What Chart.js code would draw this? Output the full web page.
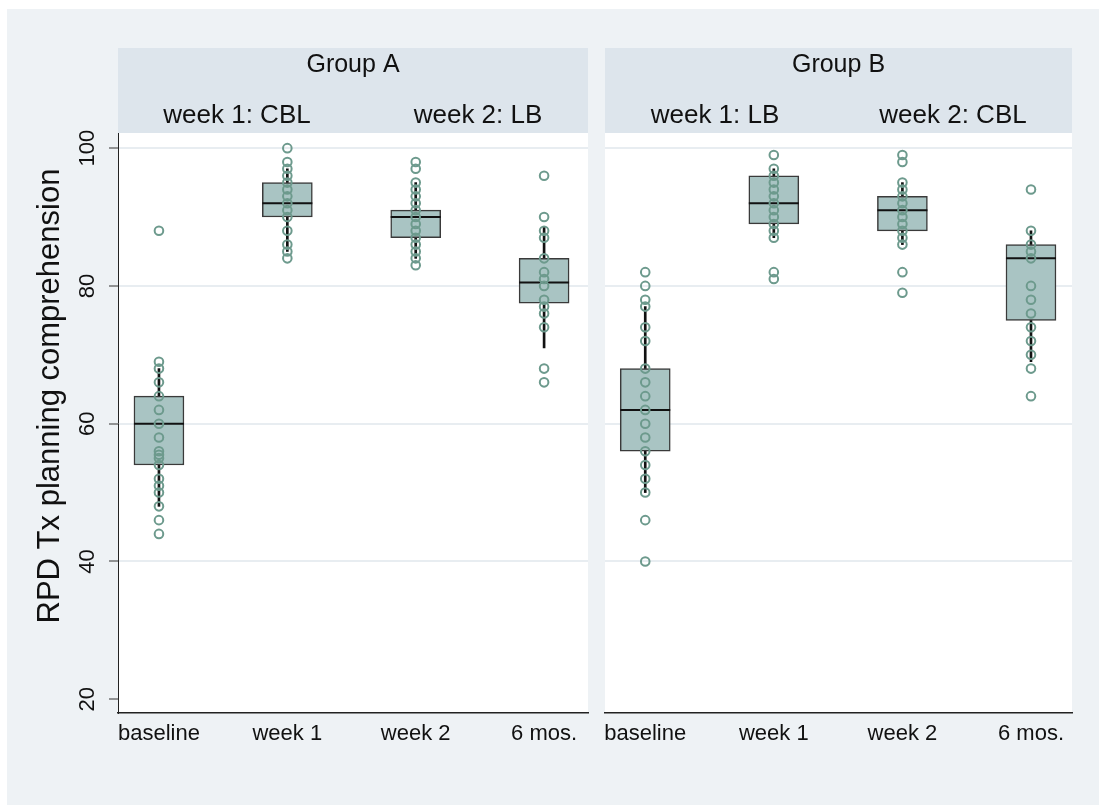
<!DOCTYPE html>
<html>
<head>
<meta charset="utf-8">
<script src="https://cdn.jsdelivr.net/npm/chart.js@4.4.1/dist/chart.umd.min.js"></script>
<style>
  html, body { margin: 0; padding: 0; background: #fff; }
  #bg { position: absolute; left: 7px; top: 9px; width: 1092px; height: 796px; background: #eef2f5; }
  canvas { position: absolute; left: 0; top: 0; }
</style>
</head>
<body>
<div id="bg"></div>
<canvas id="chartA" width="1099" height="805"></canvas>
<canvas id="chartB" width="1099" height="805"></canvas>
<script>
const categories = ['baseline', 'week 1', 'week 2', '6 mos.'];
const yTicks = [20, 40, 60, 80, 100];

// Group A - individual scores
const aBaseline = [88, 69, 68, 66, 64, 62, 60, 58, 56, 55.5, 55, 54, 52, 51, 50, 48, 46, 44];
const aWeek1 = [100, 98, 97, 96, 95, 94, 93, 92, 91, 90, 88, 86, 85, 84];
const aWeek2 = [98, 97, 95, 94, 93, 92, 91, 90, 89, 88, 87, 86, 85, 84, 83];
const aMonth6 = [96, 90, 88, 87, 84, 82, 81, 80, 78, 77, 76, 74, 68, 66];

// Group A - box summaries (baseline, week 1, week 2, 6 mos.)
const aLow = [48, 85, 84, 71];
const aQ1 = [54, 90, 87, 77.5];
const aMedian = [60, 92, 90, 80.5];
const aQ3 = [64, 95, 91, 84];
const aHigh = [68, 97, 95, 88.5];

// Group B - individual scores
const bBaseline = [82, 80, 78, 77, 74, 72, 68, 66, 64, 62, 60, 58, 56, 54, 52, 50, 46, 40];
const bWeek1 = [99, 97, 96, 95, 94, 93, 92, 91, 90, 89, 88, 87, 82, 81];
const bWeek2 = [99, 98, 95, 94, 93, 92, 91, 90, 89, 88, 87, 86, 82, 79];
const bMonth6 = [94, 88, 86, 85, 84, 80, 78, 76, 74, 72, 70, 68, 64];

// Group B - box summaries
const bLow = [50, 87, 86, 69];
const bQ1 = [56, 89, 88, 75];
const bMedian = [62, 92, 91, 84];
const bQ3 = [68, 96, 93, 86];
const bHigh = [77, 97, 95, 88];

const FONT = '"Liberation Sans", Arial, sans-serif';

// header strip, white plot area and the y title (drawn before the chart)
const panelPlugin = {
    id: 'panel',
    beforeDraw(chart, args, opts) {
        const ctx = chart.ctx;
        const a = chart.chartArea;
        ctx.save();
        ctx.fillStyle = '#dde5ec';
        ctx.fillRect(a.left, 48, a.right - a.left, a.top - 48);
        ctx.fillStyle = '#ffffff';
        ctx.fillRect(a.left, a.top, a.right - a.left, a.bottom - a.top);
        ctx.fillStyle = '#111';
        ctx.textAlign = 'center';
        ctx.textBaseline = 'middle';
        ctx.font = '25px ' + FONT;
        ctx.fillText(opts.title, (a.left + a.right) / 2, 65);
        ctx.font = '26px ' + FONT;
        opts.subtitles.forEach(s => ctx.fillText(s.text, a.left + s.dx, 116));
        if (opts.yTitle) {
            ctx.translate(50, 396);
            ctx.rotate(-Math.PI / 2);
            ctx.font = '31px ' + FONT;
            ctx.fillText(opts.yTitle, 0, 0);
        }
        ctx.restore();
    }
};

function buildPanel(id, pts, low, q1, med, q3, high, panelOpts, first) {
    const scatterData = [];
    pts.forEach((vals, i) => vals.forEach(v => scatterData.push({ x: i, y: v })));
    const boxData = q1.map((v, i) => ({ x: i, y: [v, q3[i]] }));
    const whiskers = q3.map((v, i) => ({ x: i, y: [v, high[i]] }))
        .concat(low.map((v, i) => ({ x: i, y: [v, q1[i]] })));
    const medData = med.map((v, i) => ({ x: i, y: v }));

    return new Chart(document.getElementById(id).getContext('2d'), {
        type: 'bar',
        data: {
            datasets: [
                {
                    type: 'scatter',
                    data: scatterData,
                    pointStyle: 'circle',
                    pointRadius: 4.3,
                    borderColor: '#6d9a8d',
                    backgroundColor: 'rgba(0,0,0,0)',
                    borderWidth: 2
                },
                {
                    type: 'scatter',
                    data: medData,
                    pointStyle: 'line',
                    pointRadius: 25,
                    borderColor: '#111',
                    borderWidth: 2
                },
                {
                    data: boxData,
                    backgroundColor: '#a9c4c3',
                    borderColor: '#3a3a3a',
                    borderWidth: 1.5,
                    borderSkipped: false,
                    barThickness: 50,
                    grouped: false
                },
                {
                    data: whiskers,
                    backgroundColor: '#111',
                    borderWidth: 0,
                    barThickness: 2,
                    grouped: false
                }
            ]
        },
        options: {
            responsive: false,
            animation: false,
            events: [],
            layout: { padding: panelOpts.padding },
            plugins: {
                legend: { display: false },
                tooltip: { enabled: false },
                panel: panelOpts
            },
            scales: {
                x: {
                    type: 'linear',
                    min: panelOpts.xMin,
                    max: panelOpts.xMax,
                    offset: false,
                    afterBuildTicks: s => { s.ticks = categories.map((c, i) => ({ value: i })); },
                    afterFit: s => { s.height = 40; },
                    grid: { display: false, offset: false },
                    border: { display: true, color: '#222', width: 1.5 },
                    ticks: {
                        callback: v => categories[v],
                        autoSkip: false,
                        maxRotation: 0,
                        minRotation: 0,
                        padding: 0,
                        color: '#111',
                        font: { family: FONT, size: 22 }
                    }
                },
                y: {
                    min: 18,
                    max: 102.2,
                    afterBuildTicks: s => { s.ticks = yTicks.map(v => ({ value: v })); },
                    afterFit: s => { s.width = first ? 60 : 0; },
                    grid: {
                        color: c => (c.tick && c.tick.value === 20) ? 'rgba(0,0,0,0)' : '#e8edf1',
                        lineWidth: 2,
                        drawTicks: first,
                        tickLength: 9,
                        tickColor: '#333',
                        tickWidth: 1
                    },
                    border: { display: first, color: '#222', width: 1 },
                    ticks: {
                        display: first,
                        minRotation: 90,
                        maxRotation: 90,
                        crossAlign: 'center',
                        padding: 3,
                        color: '#111',
                        font: { family: FONT, size: 22 }
                    }
                }
            }
        },
        plugins: [panelPlugin]
    });
}

buildPanel('chartA', [aBaseline, aWeek1, aWeek2, aMonth6], aLow, aQ1, aMedian, aQ3, aHigh, {
    title: 'Group A',
    subtitles: [{ text: 'week 1: CBL', dx: 119 }, { text: 'week 2: LB', dx: 360 }],
    yTitle: 'RPD Tx planning comprehension',
    padding: { left: 58, right: 511, top: 133, bottom: 52 },
    xMin: -0.319,
    xMax: 3.342
}, true);

buildPanel('chartB', [bBaseline, bWeek1, bWeek2, bMonth6], bLow, bQ1, bMedian, bQ3, bHigh, {
    title: 'Group B',
    subtitles: [{ text: 'week 1: LB', dx: 110 }, { text: 'week 2: CBL', dx: 348 }],
    padding: { left: 605, right: 27, top: 133, bottom: 52 },
    xMin: -0.313,
    xMax: 3.319
}, false);
</script>
</body>
</html>
